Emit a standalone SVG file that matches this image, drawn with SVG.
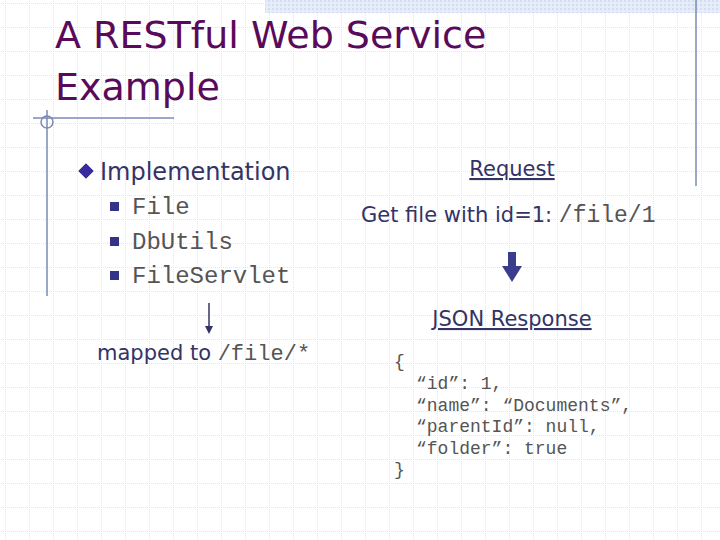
<svg xmlns="http://www.w3.org/2000/svg" width="720" height="540" viewBox="0 0 720 540">
<defs>
<pattern id="grid" x="5" y="3" width="24" height="24" patternUnits="userSpaceOnUse">
<path d="M0 0H24M0 0V24" fill="none" stroke="#cfcfcf" stroke-width="1" stroke-dasharray="1 1"/>
</pattern>
<pattern id="hatch" width="4" height="4" patternUnits="userSpaceOnUse">
<rect width="4" height="4" fill="#e6ecf8"/><rect width="2" height="2" fill="#d2dcf2"/>
</pattern>
<style>
.t{font-family:"DejaVu Sans",Verdana,sans-serif;fill:#333366}
.m{font-family:"Liberation Mono","Courier New",monospace;fill:#555}
.u{text-decoration:underline}
</style>
</defs>
<rect width="720" height="540" fill="#fff"/>
<rect width="720" height="540" fill="url(#grid)"/>
<rect x="265" y="0" width="455" height="13" fill="url(#hatch)"/>
<g stroke="#7a8ab4" stroke-width="1.5" fill="none">
<line x1="696" y1="0" x2="696" y2="186"/>
<line x1="47" y1="110" x2="47" y2="296"/>
<line x1="33" y1="118" x2="174" y2="118"/>
<circle cx="47" cy="122" r="6"/>
</g>
<g id="title" style="font-family:'DejaVu Sans',Verdana,sans-serif;fill:#5a0a5a;font-size:38px">
<text x="55" y="48">A RESTful Web Service</text>
<text x="55" y="100">Example</text>
</g>
<g id="impl">
<path d="M86 163l8 8-8 8-8-8z" fill="#3a2aa0" stroke="#ccc" stroke-width="1"/>
<text class="t" x="100" y="180" font-size="24">Implementation</text>
<rect x="110" y="202" width="9" height="9" fill="#333388"/>
<rect x="110" y="237" width="9" height="9" fill="#333388"/>
<rect x="110" y="271" width="9" height="9" fill="#333388"/>
<text class="m" x="132" y="214" font-size="24">File</text>
<text class="m" x="132" y="249" font-size="24">DbUtils</text>
<text class="m" x="132" y="283" font-size="24">FileServlet</text>
</g>
<g id="mapped">
<text x="97" y="360"><tspan class="t" font-size="21">mapped to </tspan><tspan class="m" font-size="22">/file/*</tspan></text>
</g>
<g id="request">
<text class="t u" x="512" y="176" font-size="21" text-anchor="middle">Request</text>
<text x="361" y="222"><tspan class="t" font-size="21">Get file with id=1: </tspan><tspan class="m" font-size="23">/file/1</tspan></text>
</g>
<g id="response">
<text class="t u" x="512" y="326" font-size="21" text-anchor="middle">JSON Response</text>
<g class="m" font-size="18">
<text x="394" y="367">{</text>
<text x="416" y="389">“id”: 1,</text>
<text x="416" y="411">“name”: “Documents”,</text>
<text x="416" y="432">“parentId”: null,</text>
<text x="416" y="454">“folder”: true</text>
<text x="394" y="475">}</text>
</g>
</g>
<g id="connectors">
<path d="M508 252h8v14h6l-10 16-10-16h6z" fill="#3a3d8c"/>
<line x1="209" y1="303" x2="209" y2="328" stroke="#333366" stroke-width="1.5"/>
<path d="M205 326l4 8 4-8z" fill="#333366"/>
</g>
</svg>
